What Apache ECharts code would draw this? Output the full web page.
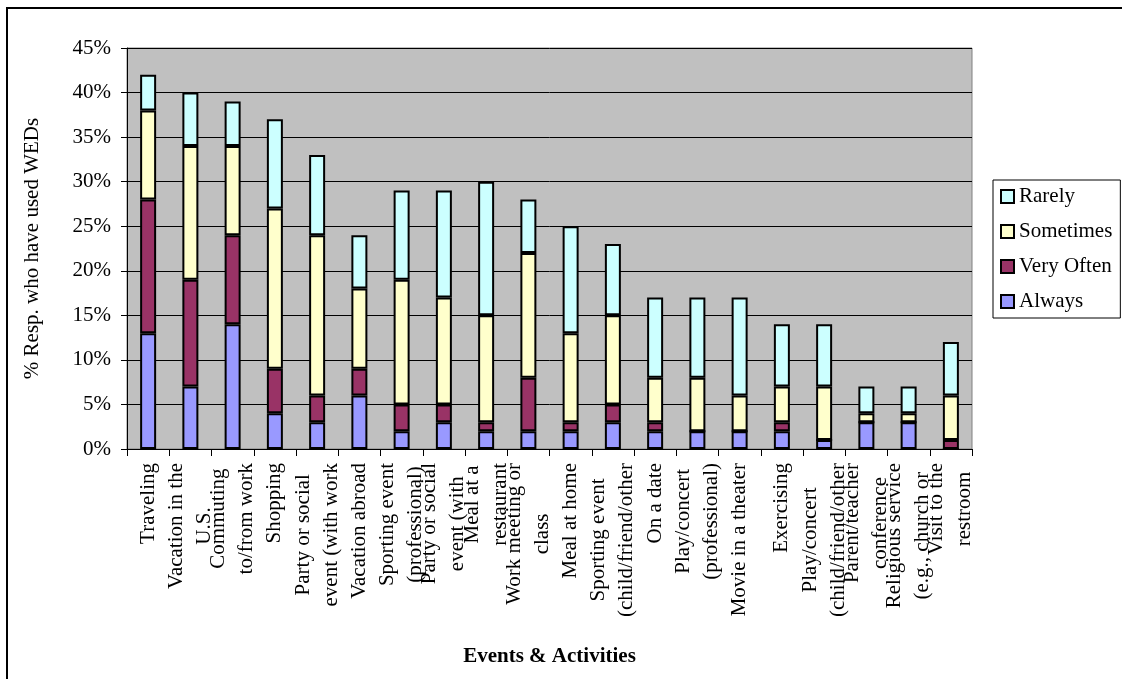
<!DOCTYPE html>
<html>
<head>
<meta charset="utf-8">
<script src="https://cdn.jsdelivr.net/npm/echarts@6/dist/echarts.min.js"></script>
<style>
html,body{margin:0;padding:0;background:#fff;}
#chart{width:1122px;height:679px;}
</style>
</head>
<body>
<div id="chart"></div>
<script>
var categories = [
  "Traveling",
  "Vacation in the\nU.S.",
  "Commuting\nto/from work",
  "Shopping",
  "Party or social\nevent (with work",
  "Vacation abroad",
  "Sporting event\n(professional)",
  "Party or social\nevent (with",
  "Meal at a\nrestaurant",
  "Work meeting or\nclass",
  "Meal at home",
  "Sporting event\n(child/friend/other",
  "On a date",
  "Play/concert\n(professional)",
  "Movie in a theater",
  "Exercising",
  "Play/concert\n(child/friend/other",
  "Parent/teacher\nconference",
  "Religious service\n(e.g., church or",
  "Visit to the\nrestroom"
];
var always    = [13, 7, 14, 4, 3, 6, 2, 3, 2, 2, 2, 3, 2, 2, 2, 2, 1, 3, 3, 0];
var veryOften = [15, 12, 10, 5, 3, 3, 3, 2, 1, 6, 1, 2, 1, 0, 0, 1, 0, 0, 0, 1];
var sometimes = [10, 15, 10, 18, 18, 9, 14, 12, 12, 14, 10, 10, 5, 6, 4, 4, 6, 1, 1, 5];
var rarely    = [4, 6, 5, 10, 9, 6, 10, 12, 15, 6, 12, 8, 9, 9, 11, 7, 7, 3, 3, 6];
var seriesNames = ["Always", "Very Often", "Sometimes", "Rarely"];
var legendOrder = ["Rarely", "Sometimes", "Very Often", "Always"];
var yTickMax = 45, yTickStep = 5;

var colors = {"Always": "#9999FF", "Very Often": "#993366", "Sometimes": "#FFFFCC", "Rarely": "#CCFFFF"};
var FONT = "'Liberation Serif', 'Times New Roman', serif";

var chart = echarts.init(document.getElementById('chart'));
var valuesByName = {"Always": always, "Very Often": veryOften, "Sometimes": sometimes, "Rarely": rarely};

var series = seriesNames.map(function (n) {
  return {
    name: n,
    type: 'bar',
    stack: 'total',
    barWidth: 16,
    data: valuesByName[n],
    itemStyle: {color: colors[n], borderColor: '#000', borderWidth: 2},
    emphasis: {disabled: true}
  };
});

chart.setOption({
  animation: false,
  textStyle: {fontFamily: FONT},
  graphic: [{
    type: 'rect',
    shape: {x: 7, y: 8, width: 1300, height: 900},
    style: {fill: null, stroke: '#000', lineWidth: 2},
    silent: true,
    z: -10
  }],
  grid: {
    left: 127, top: 48, right: 150, bottom: 230,
    show: true, backgroundColor: '#C0C0C0', borderColor: '#808080', borderWidth: 1
  },
  legend: {
    data: legendOrder,
    orient: 'vertical',
    left: 993, top: 180,
    padding: [6, 8, 6, 7],
    itemGap: 14,
    itemWidth: 13, itemHeight: 13,
    icon: 'rect',
    itemStyle: {borderColor: '#000', borderWidth: 2},
    backgroundColor: '#fff',
    borderColor: '#000', borderWidth: 1,
    textStyle: {fontFamily: FONT, fontSize: 21, color: '#000'}
  },
  xAxis: {
    type: 'category',
    data: categories,
    name: 'Events & Activities',
    nameLocation: 'middle',
    nameGap: 197,
    nameTextStyle: {fontFamily: FONT, fontSize: 21, fontWeight: 'bold', color: '#000'},
    axisLine: {lineStyle: {color: '#000', width: 1}},
    axisTick: {show: true, length: 7, lineStyle: {color: '#000'}},
    axisLabel: {
      interval: 0,
      rotate: 90,
      margin: 14,
      fontFamily: FONT,
      fontSize: 21,
      color: '#000',
      lineHeight: 28,
      formatter: function (v) {
        return v.split('\n').map(function (s) { return '{c|' + s + '}'; }).join('\n');
      },
      rich: {
        c: {align: 'center', fontFamily: FONT, fontSize: 21, color: '#000', lineHeight: 28}
      }
    }
  },
  yAxis: {
    type: 'value',
    min: 0, max: yTickMax, interval: yTickStep,
    name: '% Resp. who have used WEDs',
    nameLocation: 'middle',
    nameGap: 84,
    nameTextStyle: {fontFamily: FONT, fontSize: 21, color: '#000'},
    axisLine: {show: true, lineStyle: {color: '#000', width: 1}},
    axisTick: {show: true, length: 6, lineStyle: {color: '#000'}},
    axisLabel: {formatter: '{value}%', margin: 16, fontFamily: FONT, fontSize: 21, color: '#000'},
    splitLine: {show: true, lineStyle: {color: '#000', width: 1}}
  },
  series: series
});
</script>
</body>
</html>
